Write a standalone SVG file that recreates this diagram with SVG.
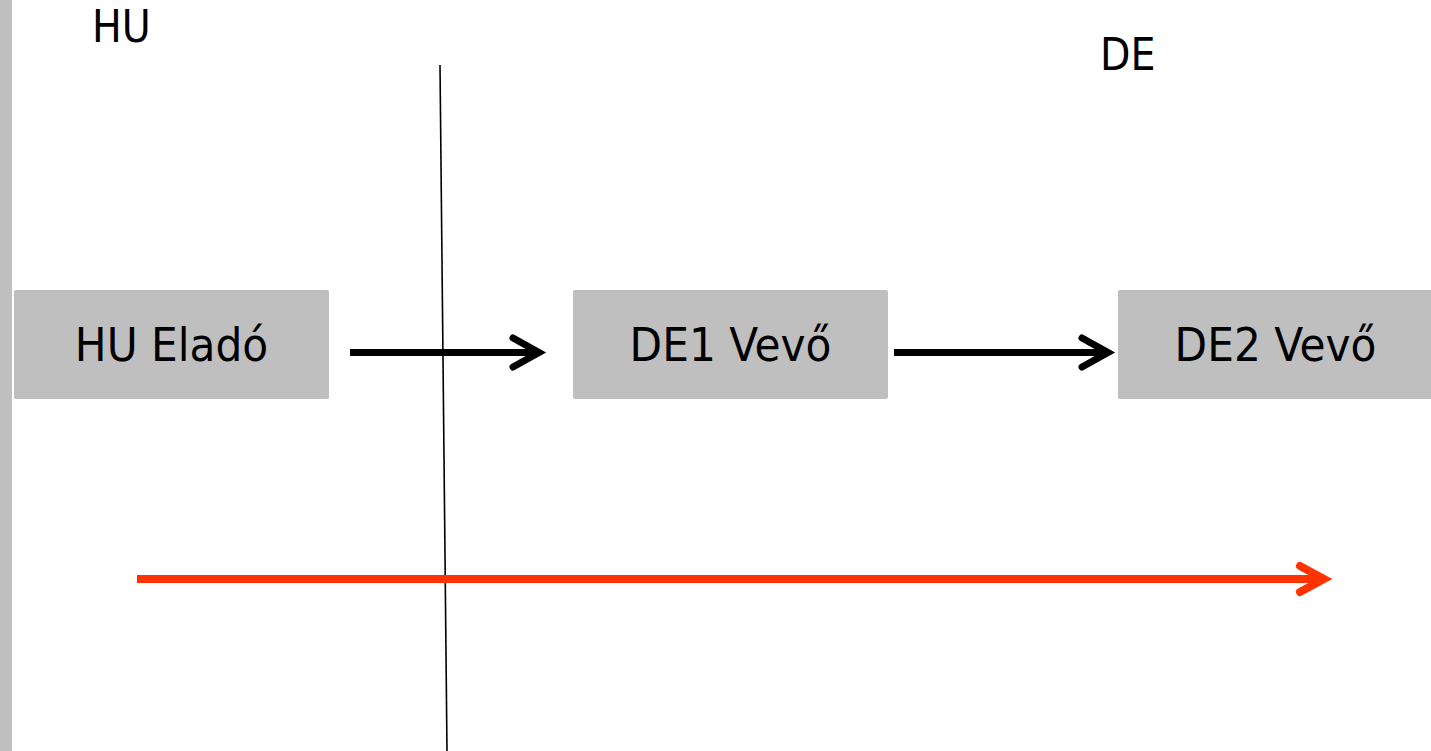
<svg xmlns="http://www.w3.org/2000/svg" width="1431" height="751" viewBox="0 0 1431 751">
<style>
.box{fill:#bfbfbf}
.lbl{font-family:"DejaVu Sans Condensed","DejaVu Sans",sans-serif;font-stretch:condensed;fill:#000}
.bt{font-size:47px;text-anchor:middle}
.ct{font-size:44px}
.blk{stroke:#000;stroke-width:7;fill:none}
.red{stroke:#ff3300;stroke-width:8;fill:none}
.head{stroke-linecap:round;stroke-linejoin:miter}
.shaft{stroke-linecap:butt}
</style>
<rect x="0" y="0" width="1431" height="751" fill="#fff"/>
<rect x="0" y="0" width="12" height="751" fill="#c0c0c0"/>
<g id="label-hu"><text class="lbl ct" x="92" y="42">HU</text></g>
<g id="label-de"><text class="lbl ct" x="1100" y="70">DE</text></g>
<g id="border-line"><line x1="440" y1="65" x2="447" y2="751" stroke="#000" stroke-width="1.6"/></g>
<g id="node-hu-elado">
<rect class="box" x="14" y="290" width="315" height="109" rx="2"/>
<text class="lbl bt" x="171.5" y="361">HU Eladó</text>
</g>
<g id="node-de1-vevo">
<rect class="box" x="573" y="290" width="315" height="109" rx="2"/>
<text class="lbl bt" x="730.5" y="361">DE1 Vevő</text>
</g>
<g id="node-de2-vevo">
<rect class="box" x="1118" y="290" width="315" height="109" rx="2"/>
<text class="lbl bt" x="1275.5" y="361">DE2 Vevő</text>
</g>
<g id="connectors">
<line class="blk shaft" x1="350" y1="352.5" x2="535" y2="352.5"/>
<polyline class="blk head" points="513,338 539,352.5 513,367"/>
<line class="blk shaft" x1="894" y1="352.5" x2="1103" y2="352.5"/>
<polyline class="blk head" points="1082,338 1108,352.5 1082,367"/>
<line class="red shaft" x1="137" y1="579" x2="1320" y2="579"/>
<polyline class="red head" points="1300,566 1324,579 1300,592"/>
</g>
</svg>
